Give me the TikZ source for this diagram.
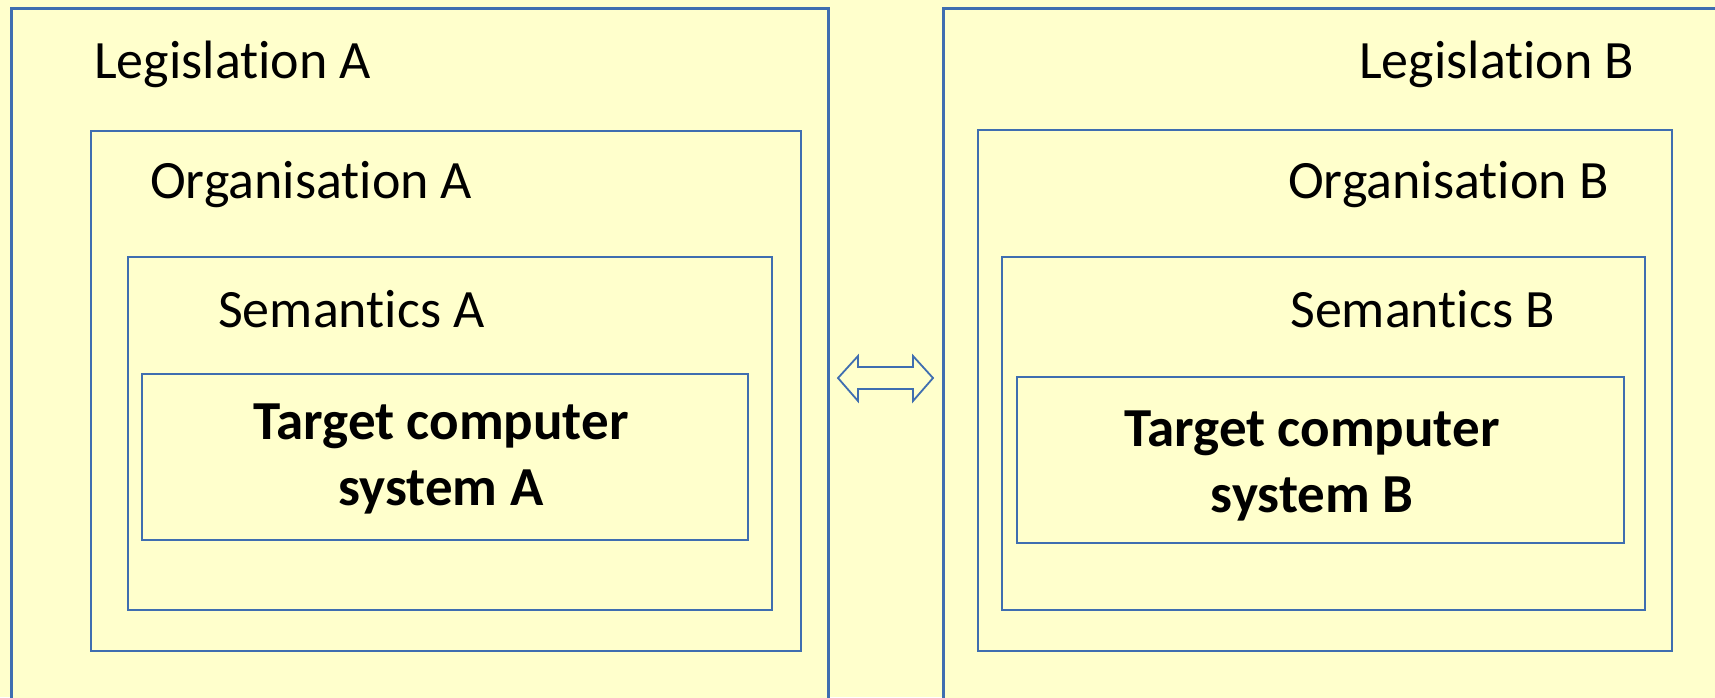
\documentclass[tikz,border=0pt]{standalone}
\usepackage{fontspec}
\setmainfont{Carlito}[Ligatures=NoCommon]
\definecolor{paper}{HTML}{FFFFCC}
\definecolor{frame}{HTML}{3F6EB0}
% keep "t" and "i" as separate glyphs
\newcommand{\nti}{t\kern0pt i}
\begin{document}
\begin{tikzpicture}[x=1pt,y=-1pt,
  outerbox/.style={draw=frame, line width=3pt, fill=paper, rectangle, inner sep=0pt, anchor=north west},
  innerbox/.style={draw=frame, line width=2.4pt, fill=paper, rectangle, inner sep=0pt, anchor=north west},
  label/.style={font=\fontsize{54}{64}\selectfont, inner sep=0pt, anchor=base west, text=black},
  target/.style={font=\fontsize{55}{66}\selectfont\bfseries, inner sep=0pt, align=center, anchor=base, text=black},
  linkarrow/.style={draw=frame, line width=1.8pt, fill=paper, line join=miter}]
  % page
  \fill[paper] (0,0) rectangle (1715,697);
  \useasboundingbox (0,0) rectangle (1715,697);
  \clip (0,0) rectangle (1715,697);

  % left side: nested contexts of system A
  \node[outerbox, minimum width=817pt, minimum height=760pt] (legA) at (9.5,6.5) {};
  \node[innerbox, minimum width=710pt, minimum height=520pt] (orgA) at (89.5,130) {};
  \node[innerbox, minimum width=644pt, minimum height=353pt] (semA) at (127,256) {};
  \node[innerbox, minimum width=606pt, minimum height=166pt] (tgtA) at (141,373) {};

  % right side: nested contexts of system B
  \node[outerbox, minimum width=900pt, minimum height=760pt] (legB) at (941.5,6.5) {};
  \node[innerbox, minimum width=694pt, minimum height=521pt] (orgB) at (977,129) {};
  \node[innerbox, minimum width=643pt, minimum height=353pt] (semB) at (1001,256) {};
  \node[innerbox, minimum width=607pt, minimum height=166pt] (tgtB) at (1016,376) {};

  % captions
  \node[label] (legAtxt) at (94,78) {Legisla\nti on A};
  \node[label] (orgAtxt) at (150,198) {Organisa\nti on A};
  \node[label] (semAtxt) at (218,327) {Seman\nti cs A};
  \node[target] (tgtAtxt) at (441,505) {Target computer\\system A};

  \node[label] (legBtxt) at (1359,78) {Legisla\nti on B};
  \node[label] (orgBtxt) at (1288,198) {Organisa\nti on B};
  \node[label] (semBtxt) at (1290,327) {Seman\nti cs B};
  \node[target] (tgtBtxt) at (1312,512) {Target computer\\system B};

  % two-way link between the two sides
  \coordinate (linkL) at (838,378);
  \coordinate (linkR) at (933,378);
  \draw[linkarrow] (linkL) -- ++(20,-22) -- ++(0,11) -- ++(55,0) -- ++(0,-11)
    -- (linkR) -- ++(-20,23) -- ++(0,-12) -- ++(-55,0) -- ++(0,12) -- cycle;
\end{tikzpicture}
\end{document}
